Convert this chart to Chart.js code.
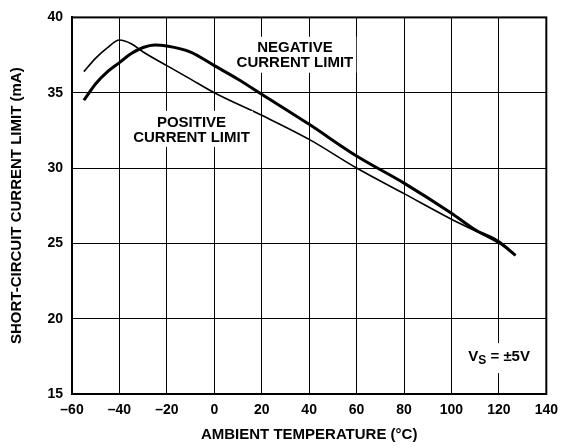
<!DOCTYPE html>
<html>
<head>
<meta charset="utf-8">
<script src="https://cdn.jsdelivr.net/npm/chart.js@4/dist/chart.umd.min.js"></script>
<style>
	html, body { margin: 0; padding: 0; background: #ffffff; }
	#wrap { width: 566px; height: 448px; }
</style>
</head>
<body>
<div id="wrap"><canvas id="chart" width="566" height="448"></canvas></div>
<script>
// Values.
var posTemps = [ -55, -50, -45, -40, -35, -30, -20, -10, 0, 20, 40, 60, 80, 100, 120, 127 ];
var posLimit = [ 36.4, 37.3, 38.0, 38.5, 38.25, 37.7, 36.8, 35.9, 35.0, 33.5, 31.9, 30.0, 28.3, 26.6, 25.0, 24.2 ];

var negTemps = [ -55, -50, -45, -40, -35, -30, -25, -20, -10, 0, 10, 20, 40, 60, 80, 100, 110, 120, 127 ];
var negLimit = [ 34.5, 35.6, 36.4, 37.0, 37.6, 38.0, 38.17, 38.1, 37.7, 36.8, 35.9, 34.9, 32.9, 30.8, 29.0, 27.0, 25.9, 25.1, 24.2 ];

var xTicks = [ -60, -40, -20, 0, 20, 40, 60, 80, 100, 120, 140 ];
var yTicks = [ 15, 20, 25, 30, 35, 40 ];

function toPoints( xs, ys ) {
	var pts = [];
	for ( var i = 0; i < xs.length; i++ ) {
		pts.push( { x: xs[ i ], y: ys[ i ] } );
	}
	return pts;
}

var FONT = '"Liberation Sans", Arial, sans-serif';

// Text notes with white boxes that cut the grid lines.
var notesPlugin = {
	id: 'notes',
	afterDatasetsDraw: function ( chart ) {
		var ctx = chart.ctx;
		var xs = chart.scales.x;
		var ys = chart.scales.y;

		function block( lines, xv, yv ) {
			var cx = xs.getPixelForValue( xv );
			var cy = ys.getPixelForValue( yv );
			ctx.save();
			ctx.font = 'bold 15px ' + FONT;
			var w = 0;
			lines.forEach( function ( l ) { w = Math.max( w, ctx.measureText( l ).width ); } );
			var lh = 15;
			var h = lh * lines.length;
			ctx.fillStyle = '#ffffff';
			ctx.fillRect( cx - w / 2 - 3, cy - h / 2 - 3, w + 6, h + 6 );
			ctx.fillStyle = '#000000';
			ctx.textAlign = 'center';
			ctx.textBaseline = 'middle';
			lines.forEach( function ( l, i ) {
				ctx.fillText( l, cx, cy - h / 2 + lh / 2 + i * lh + 1 );
			} );
			ctx.restore();
		}

		block( [ 'NEGATIVE', 'CURRENT LIMIT' ], 34, 37.52 );
		block( [ 'POSITIVE', 'CURRENT LIMIT' ], -9.6, 32.6 );

		// V_S = ±5V with subscript
		var vx = xs.getPixelForValue( 120.1 );
		var vy = ys.getPixelForValue( 17.45 );
		ctx.save();
		ctx.font = 'bold 15px ' + FONT;
		var wV = ctx.measureText( 'V' ).width;
		var wRest = ctx.measureText( ' = ±5V' ).width;
		ctx.font = 'bold 12px ' + FONT;
		var wS = ctx.measureText( 'S' ).width;
		var total = wV + wS + wRest;
		var left = vx - total / 2;
		ctx.fillStyle = '#ffffff';
		ctx.fillRect( left - 4, vy - 14, total + 8, 30 );
		ctx.fillStyle = '#000000';
		ctx.textBaseline = 'middle';
		ctx.font = 'bold 15px ' + FONT;
		ctx.fillText( 'V', left, vy );
		ctx.font = 'bold 12px ' + FONT;
		ctx.fillText( 'S', left + wV, vy + 4 );
		ctx.font = 'bold 15px ' + FONT;
		ctx.fillText( ' = ±5V', left + wV + wS, vy );
		ctx.restore();
	}
};

// Box on the right and top sides of the plot.
var framePlugin = {
	id: 'frame',
	afterDraw: function ( chart ) {
		var a = chart.chartArea;
		var ctx = chart.ctx;
		ctx.save();
		ctx.strokeStyle = '#000000';
		ctx.lineWidth = 2;
		ctx.strokeRect( a.left, a.top, a.right - a.left, a.bottom - a.top );
		ctx.restore();
	}
};

var config = {
	type: 'scatter',
	data: {
		datasets: [
			{
				label: 'Positive current limit',
				data: toPoints( posTemps, posLimit ),
				showLine: true,
				borderColor: '#000000',
				borderWidth: 1.6,
				pointRadius: 0,
				cubicInterpolationMode: 'monotone',
				fill: false,
			},
			{
				label: 'Negative current limit',
				data: toPoints( negTemps, negLimit ),
				showLine: true,
				borderColor: '#000000',
				borderWidth: 3,
				pointRadius: 0,
				cubicInterpolationMode: 'monotone',
				fill: false,
			},
		],
	},
	plugins: [ notesPlugin, framePlugin ],
	options: {
		responsive: false,
		animation: false,
		layout: {
			padding: { top: 11, right: 14, left: 0, bottom: 0 },
		},
		plugins: {
			legend: { display: false },
			tooltip: { enabled: false },
		},
		scales: {
			x: {
				type: 'linear',
				min: -60,
				max: 140,
				afterBuildTicks: function ( scale ) {
					scale.ticks = xTicks.map( function ( v ) { return { value: v }; } );
				},
				afterFit: function ( scale ) {
					scale.height = 54;
				},
				grid: {
					color: '#000000',
					lineWidth: 1,
					drawTicks: false,
				},
				border: { color: '#000000', width: 2 },
				ticks: {
					color: '#000000',
					padding: 8,
					maxRotation: 0,
					font: { family: FONT, size: 14, weight: 'bold' },
					callback: function ( v ) {
						return String( v ).replace( '-', '\u2013' );
					},
				},
				title: {
					display: true,
					text: 'AMBIENT TEMPERATURE (°C)',
					color: '#000000',
					padding: { top: 2, bottom: 4 },
					font: { family: FONT, size: 15, weight: 'bold' },
				},
			},
			y: {
				type: 'linear',
				min: 15,
				max: 40,
				afterBuildTicks: function ( scale ) {
					scale.ticks = yTicks.map( function ( v ) { return { value: v }; } );
				},
				afterFit: function ( scale ) {
					scale.width = 72;
				},
				grid: {
					color: '#000000',
					lineWidth: 1,
					drawTicks: false,
				},
				border: { color: '#000000', width: 2 },
				ticks: {
					color: '#000000',
					padding: 9,
					font: { family: FONT, size: 14, weight: 'bold' },
				},
				title: {
					display: true,
					text: 'SHORT-CIRCUIT CURRENT LIMIT (mA)',
					color: '#000000',
					padding: { top: 8, bottom: 0 },
					font: { family: FONT, size: 15, weight: 'bold' },
				},
			},
		},
	},
};

window.refChart = new Chart( document.getElementById( 'chart' ), config );
</script>
</body>
</html>
